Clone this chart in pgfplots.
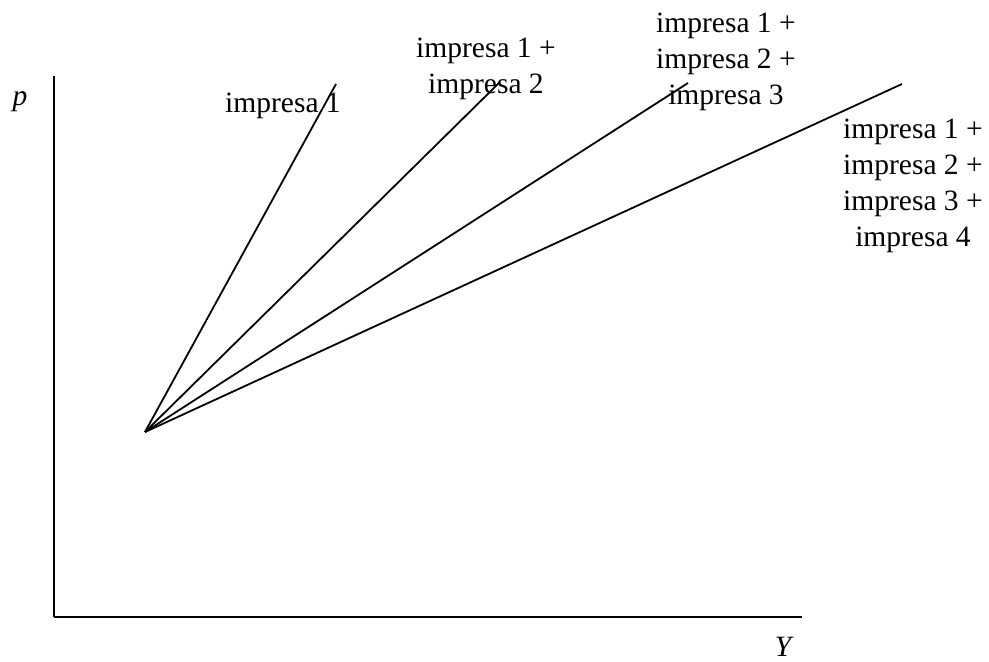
\documentclass[border=0pt]{standalone}
\usepackage{fontspec}
\setmainfont{Liberation Serif}
\usepackage{pgfplots}
\pgfplotsset{compat=1.18}
\tikzset{
  lbl/.style={font=\fontsize{29.5}{36}\selectfont, align=center, inner sep=0pt},
  supply/.style={black, line width=1.8pt, mark=none},
}

\begin{document}
\begin{tikzpicture}
\begin{axis}[
  x=1pt, y=1pt,
  xmin=54, xmax=802,
  ymin=45, ymax=586,
  axis lines=left,
  axis line style={-, line width=2pt},
  xtick=\empty, ytick=\empty,
  clip=false,
]
% supply curves: each starts at the common point and fans out
\addplot[supply] coordinates {(145,230) (336,578)};
\addplot[supply] coordinates {(145,230) (500,580)};
\addplot[supply] coordinates {(145,230) (688,579)};
\addplot[supply] coordinates {(145,230) (902,578)};

\node[lbl] at (axis cs:283,556) {impresa 1};
\node[lbl] at (axis cs:486,593) {impresa 1 +\\impresa 2};
\node[lbl] at (axis cs:726,600) {impresa 1 +\\impresa 2 +\\impresa 3};
\node[lbl] at (axis cs:913,476) {impresa 1 +\\impresa 2 +\\impresa 3 +\\impresa 4};

\node[lbl, font=\fontsize{29.5}{36}\selectfont\itshape] at (axis cs:20,560) {p};
\node[lbl, font=\fontsize{29.5}{36}\selectfont\itshape] at (axis cs:783,15) {Y};

\path (axis cs:0,0) rectangle (axis cs:989,662);
\end{axis}
\end{tikzpicture}
\end{document}
